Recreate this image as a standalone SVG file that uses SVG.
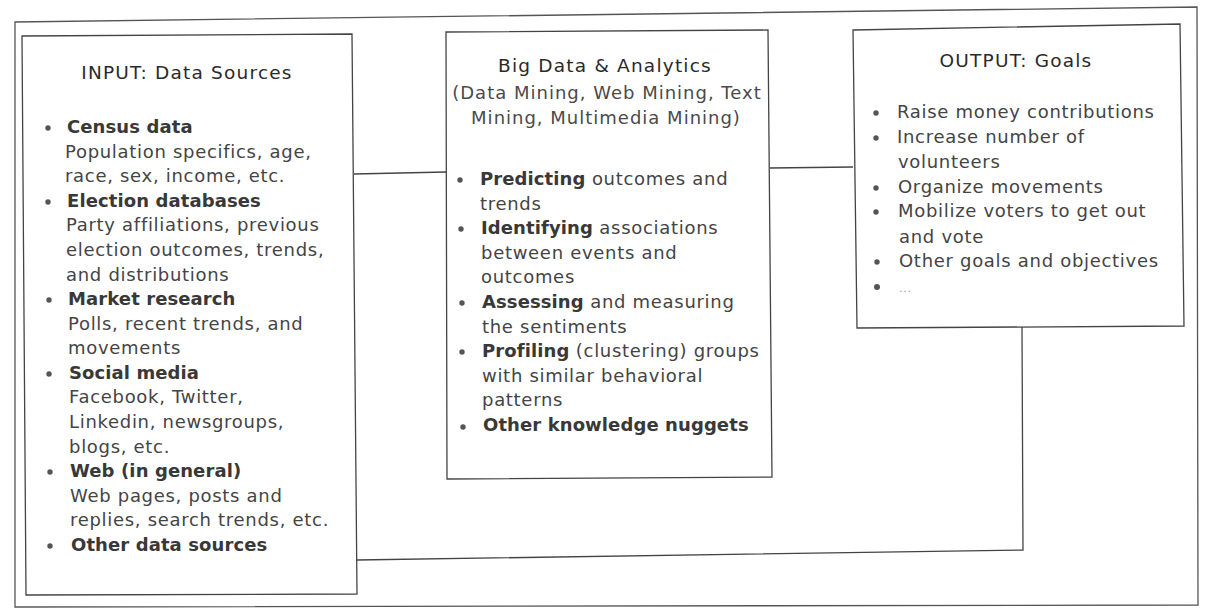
<svg xmlns="http://www.w3.org/2000/svg" width="1205" height="611" viewBox="0 0 1205 611">
<style>
.frame{fill:none;stroke:#555;stroke-width:1.3}
.box{fill:#fff;stroke:#444;stroke-width:1.3}
.conn{fill:none;stroke:#444;stroke-width:1.3}
text{font-family:"DejaVu Sans","Liberation Sans",sans-serif;font-size:18px;letter-spacing:0.7px;fill:#444}
.title{fill:#2a2a2a;text-anchor:middle;font-size:18.5px;letter-spacing:1.2px}
.sub{text-anchor:middle;fill:#4a4a4a;letter-spacing:1px}
.b{font-weight:bold;fill:#383838;letter-spacing:0.1px}
.dot{fill:#555}
</style>
<rect width="1205" height="611" fill="#fff"/>
<polygon class="frame" points="15,22 1197,7 1198,605 15,607"/>
<g id="connectors">
<line class="conn" x1="354" y1="174" x2="446" y2="172"/>
<line class="conn" x1="770" y1="168" x2="853" y2="167"/>
<polyline class="conn" points="1022,327 1023,550 357,560"/>
</g>
<g id="input">
<polygon class="box" points="22,36 352,34 357,594 26,595"/>
<text class="title" x="187" y="79">INPUT: Data Sources</text>
<g class="dot">
<circle cx="48" cy="128" r="2.7"/><circle cx="48" cy="202" r="2.7"/><circle cx="49" cy="300" r="2.7"/><circle cx="49" cy="374" r="2.7"/><circle cx="50" cy="472" r="2.7"/><circle cx="50" cy="546" r="2.7"/>
</g>
<text x="67" y="133" class="b">Census data</text>
<text x="65" y="158">Population specifics, age,</text>
<text x="65" y="182">race, sex, income, etc.</text>
<text x="67" y="207" class="b">Election databases</text>
<text x="66" y="231">Party affiliations, previous</text>
<text x="66" y="256">election outcomes, trends,</text>
<text x="66" y="281">and distributions</text>
<text x="68" y="305" class="b">Market research</text>
<text x="68" y="330">Polls, recent trends, and</text>
<text x="68" y="354">movements</text>
<text x="69" y="379" class="b">Social media</text>
<text x="69" y="403">Facebook, Twitter,</text>
<text x="69" y="428">Linkedin, newsgroups,</text>
<text x="69" y="453">blogs, etc.</text>
<text x="70" y="477"><tspan class="b">Web</tspan> <tspan class="b">(in general)</tspan></text>
<text x="70" y="502">Web pages, posts and</text>
<text x="70" y="526">replies, search trends, etc.</text>
<text x="71" y="551" class="b">Other data sources</text>
</g>
<g id="analytics">
<polygon class="box" points="446,32 768,30 772,477 447,479"/>
<text class="title" x="605" y="72">Big Data &amp; Analytics</text>
<text class="sub" x="607" y="99">(Data Mining, Web Mining, Text</text>
<text class="sub" x="606" y="124">Mining, Multimedia Mining)</text>
<g class="dot">
<circle cx="460" cy="180" r="2.7"/><circle cx="461" cy="229" r="2.7"/><circle cx="462" cy="303" r="2.7"/><circle cx="462" cy="352" r="2.7"/><circle cx="463" cy="427" r="2.7"/>
</g>
<text x="480" y="185"><tspan class="b">Predicting</tspan> outcomes and</text>
<text x="480" y="210">trends</text>
<text x="481" y="234"><tspan class="b">Identifying</tspan> associations</text>
<text x="481" y="259">between events and</text>
<text x="481" y="283">outcomes</text>
<text x="482" y="308"><tspan class="b">Assessing</tspan> and measuring</text>
<text x="482" y="333">the sentiments</text>
<text x="482" y="357"><tspan class="b">Profiling</tspan> (clustering) groups</text>
<text x="482" y="382">with similar behavioral</text>
<text x="482" y="406">patterns</text>
<text x="483" y="431" class="b">Other knowledge nuggets</text>
</g>
<g id="output">
<polygon class="box" points="853,30 1180,24 1184,326 857,328"/>
<text class="title" x="1016" y="67">OUTPUT: Goals</text>
<g class="dot">
<circle cx="876" cy="113" r="2.7"/><circle cx="876" cy="138" r="2.7"/><circle cx="876" cy="188" r="2.7"/><circle cx="876" cy="212" r="2.7"/><circle cx="877" cy="262" r="2.7"/><circle cx="877" cy="287" r="3"/>
</g>
<text x="897" y="118">Raise money contributions</text>
<text x="897" y="143">Increase number of</text>
<text x="898" y="168">volunteers</text>
<text x="898" y="193">Organize movements</text>
<text x="898" y="217">Mobilize voters to get out</text>
<text x="899" y="243">and vote</text>
<text x="899" y="267">Other goals and objectives</text>
<text x="899" y="292" style="font-size:11px;fill:#999">...</text>
</g>
</svg>
